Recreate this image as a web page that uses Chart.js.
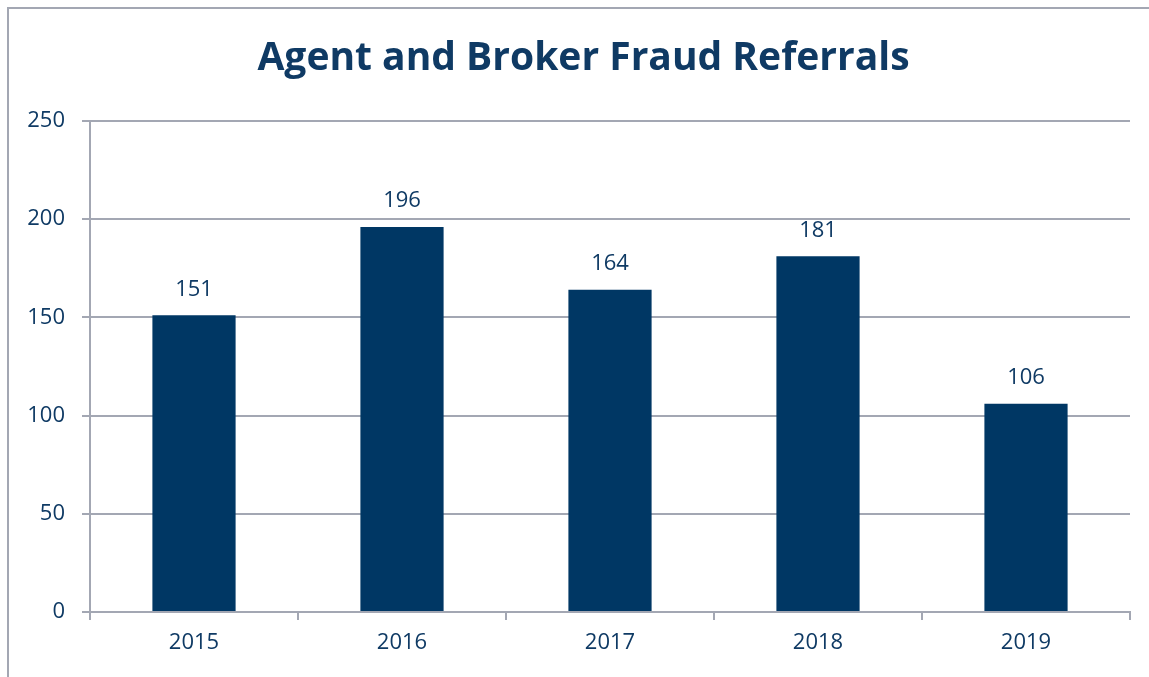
<!DOCTYPE html>
<html>
<head>
<meta charset="utf-8">
<script src="https://cdn.jsdelivr.net/npm/chart.js@4.4.1/dist/chart.umd.min.js"></script>
<style>
  html, body { margin: 0; padding: 0; background: #ffffff; overflow: hidden; }
  #wrap { position: relative; width: 1149px; height: 677px; }
  #frame { position: absolute; left: 7px; top: 7px; width: 1200px; height: 700px;
           border-left: 2px solid #a3a7b3; border-top: 2px solid #a3a7b3; pointer-events: none; }
  canvas { position: absolute; left: 0; top: 0; }
</style>
</head>
<body>
<div id="wrap">
  <canvas id="c" width="1149" height="677"></canvas>
  <div id="frame"></div>
</div>
<script>
const categories = ["2015", "2016", "2017", "2018", "2019"];
const referrals = [151, 196, 164, 181, 106];
const yTicks = [0, 50, 100, 150, 200, 250];
const chartTitle = "Agent and Broker Fraud Referrals";

const NAVY = "#003764";
const TEXT = "#0f3a64";
const GRID = "#a3a7b3";

const valueLabels = {
  id: "valueLabels",
  afterDatasetsDraw(chart) {
    const ctx = chart.ctx;
    const meta = chart.getDatasetMeta(0);
    ctx.save();
    ctx.fillStyle = TEXT;
    ctx.font = "22px 'Open Sans'";
    ctx.textAlign = "center";
    ctx.textBaseline = "middle";
    meta.data.forEach((bar, i) => {
      ctx.fillText(String(chart.data.datasets[0].data[i]), bar.x, bar.y - 26);
    });
    ctx.restore();
  }
};

// shift the title box so it is centred like the original (frame-centred)
const titleShift = {
  id: "titleShift",
  afterLayout(chart) {
    if (chart.titleBlock) { chart.titleBlock.left = 37; }
  }
};

new Chart(document.getElementById("c"), {
  type: "bar",
  data: {
    labels: categories,
    datasets: [{
      data: referrals,
      backgroundColor: NAVY,
      borderWidth: 0,
      categoryPercentage: 0.8,
      barPercentage: 0.5
    }]
  },
  options: {
    responsive: false,
    animation: false,
    layout: { padding: { left: 0, right: 19, top: 0, bottom: 0 } },
    plugins: {
      legend: { display: false },
      tooltip: { enabled: false },
      title: {
        display: true,
        text: chartTitle,
        color: TEXT,
        font: { family: "'Open Sans'", size: 39, weight: "bold", lineHeight: 1.2 },
        padding: { top: 35, bottom: 39 }
      }
    },
    scales: {
      x: {
        offset: true,
        grid: { display: true, drawOnChartArea: false, drawTicks: true, tickLength: 8, color: GRID, lineWidth: 2, offset: true },
        border: { display: true, color: GRID, width: 2 },
        ticks: { color: TEXT, font: { family: "'Open Sans'", size: 22 }, padding: 10 },
        afterFit(scale) { scale.height = 65; }
      },
      y: {
        min: 0,
        max: 250,
        afterBuildTicks(scale) { scale.ticks = yTicks.map(v => ({ value: v })); },
        grid: { color: GRID, lineWidth: 2, tickLength: 8, drawTicks: true },
        border: { display: true, color: GRID, width: 2 },
        ticks: { color: TEXT, font: { family: "'Open Sans'", size: 22 }, padding: 17 },
        afterFit(scale) { scale.width = 90; }
      }
    }
  },
  plugins: [valueLabels, titleShift]
});
</script>
</body>
</html>
